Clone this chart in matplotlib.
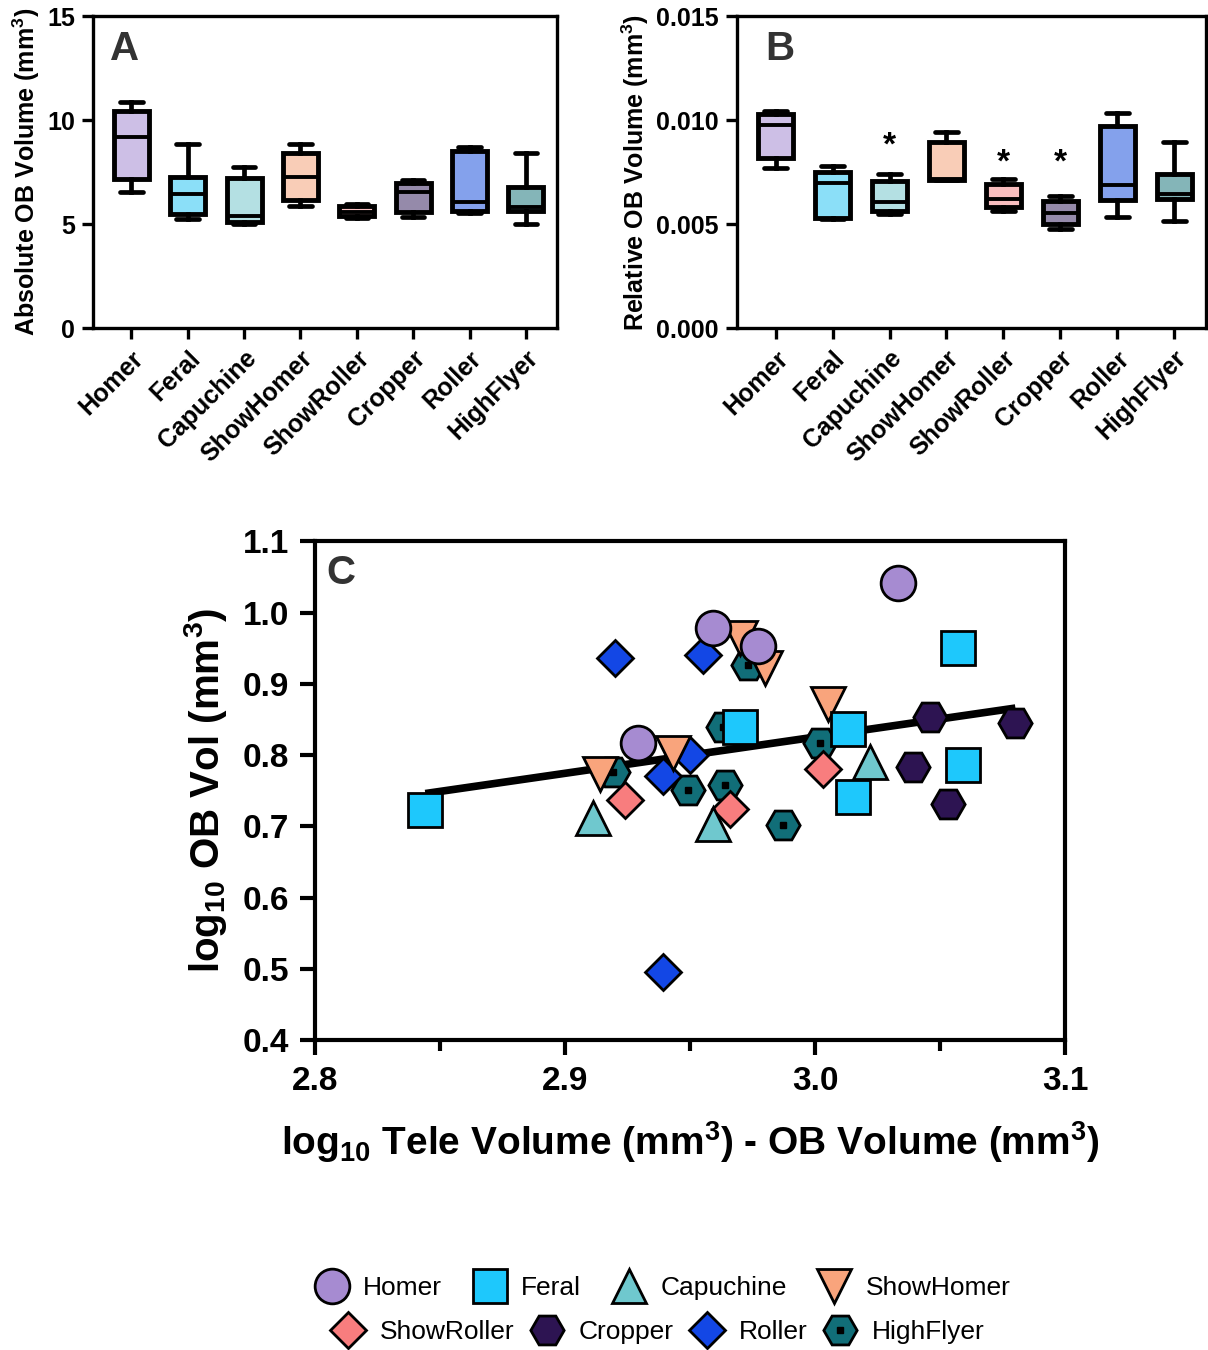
import matplotlib
matplotlib.use("Agg")
import matplotlib.pyplot as plt
import numpy as np

plt.rcParams['font.family'] = ['Liberation Sans', 'DejaVu Sans']
plt.rcParams['mathtext.fontset'] = 'custom'
plt.rcParams['mathtext.rm'] = 'Liberation Sans:bold'
plt.rcParams['mathtext.default'] = 'rm'

# Breeds (same order in all panels)
breeds = ['Homer', 'Feral', 'Capuchine', 'ShowHomer', 'ShowRoller',
          'Cropper', 'Roller', 'HighFlyer']
box_colors = ['#CDBFE6', '#8BDFF8', '#B4E0E3', '#F9CDB7', '#F8BEBF',
              '#958AAA', '#84A1EC', '#84B5B8']

# Panel A: absolute OB volume (mm^3) box summaries
a_min = [6.52, 5.23, 5.01, 5.87, 5.30, 5.36, 5.52, 4.99]
a_q1 = [7.16, 5.47, 5.12, 6.16, 5.40, 5.60, 5.65, 5.65]
a_med = [9.20, 6.43, 5.39, 7.28, 5.60, 6.56, 6.08, 5.81]
a_q3 = [10.44, 7.25, 7.20, 8.40, 5.85, 6.96, 8.53, 6.80]
a_max = [10.88, 8.84, 7.73, 8.85, 5.95, 7.12, 8.72, 8.44]

# Panel B: relative OB volume box summaries
b_min = [0.00768, 0.00523, 0.00549, 0.00712, 0.00565, 0.00475, 0.00533, 0.00517]
b_q1 = [0.00820, 0.00531, 0.00563, 0.00712, 0.00580, 0.00500, 0.00616, 0.00621]
b_med = [0.00977, 0.00696, 0.00608, 0.00717, 0.00621, 0.00552, 0.00688, 0.00645]
b_q3 = [0.01028, 0.00752, 0.00708, 0.00893, 0.00693, 0.00613, 0.00972, 0.00740]
b_max = [0.01044, 0.00780, 0.00741, 0.00945, 0.00716, 0.00637, 0.01033, 0.00893]
b_star_idx = [2, 4, 5]
b_star_y = [0.00873, 0.00792, 0.00792]

# Panel C: log10 tele - OB volume vs log10 OB volume
homer_x = [2.959, 2.977, 2.929, 3.033]
homer_y = [0.979, 0.953, 0.817, 1.041]
feral_x = [2.844, 2.970, 3.013, 3.057, 3.059, 3.015]
feral_y = [0.723, 0.839, 0.836, 0.950, 0.786, 0.741]
capuchine_x = [2.911, 2.959, 3.022]
capuchine_y = [0.711, 0.703, 0.790]
showhomer_x = [2.914, 2.943, 2.970, 2.980, 3.005]
showhomer_y = [0.774, 0.803, 0.965, 0.922, 0.871]
showroller_x = [2.924, 2.966, 3.003]
showroller_y = [0.737, 0.725, 0.781]
cropper_x = [3.046, 3.080, 3.039, 3.053]
cropper_y = [0.853, 0.845, 0.783, 0.732]
roller_x = [2.920, 2.955, 2.950, 2.939, 2.939]
roller_y = [0.936, 0.940, 0.800, 0.770, 0.495]
highflyer_x = [2.919, 2.949, 2.964, 2.987, 2.973, 2.963, 3.002]
highflyer_y = [0.776, 0.751, 0.758, 0.702, 0.926, 0.840, 0.817]
fit_x = [2.844, 3.080]
fit_y = [0.746, 0.866]

fig = plt.figure(figsize=(12.08, 13.5), dpi=100)
axA = fig.add_axes([0.077, 0.757, 0.384, 0.231])
axB = fig.add_axes([0.610, 0.757, 0.388, 0.231])
axC = fig.add_axes([0.261, 0.2296, 0.621, 0.3694])


def box_panel(ax, lo, q1, med, q3, hi):
    stats = []
    for i in range(len(breeds)):
        stats.append(dict(whislo=lo[i], q1=q1[i], med=med[i], q3=q3[i],
                          whishi=hi[i], fliers=[]))
    pos = np.arange(len(breeds))
    bp = ax.bxp(stats, positions=pos, widths=0.62, capwidths=0.4,
                patch_artist=True, showfliers=False,
                boxprops=dict(linewidth=3.5, edgecolor='black'),
                medianprops=dict(color='black', linewidth=2.8),
                whiskerprops=dict(color='black', linewidth=3.4),
                capprops=dict(color='black', linewidth=3.4, solid_capstyle='round'))
    for patch, c in zip(bp['boxes'], box_colors):
        patch.set_facecolor(c)
    ax.set_xlim(-0.68, 7.55)
    ax.set_xticks(pos)
    ax.set_xticklabels(breeds, rotation=45, ha='right', rotation_mode='anchor',
                       fontsize=18, fontweight='bold')
    for s in ax.spines.values():
        s.set_linewidth(2.4)
    ax.tick_params(axis='both', width=2.4, length=8, pad=5)


box_panel(axA, a_min, a_q1, a_med, a_q3, a_max)
axA.set_ylim(0, 15)
axA.set_yticks([0, 5, 10, 15])
axA.set_yticklabels(['0', '5', '10', '15'], fontweight='bold', fontsize=18)
axA.set_ylabel('Absolute OB Volume (mm$^3$)', fontsize=18, fontweight='bold', labelpad=4)
axA.text(0.037, 0.955, 'A', transform=axA.transAxes, fontsize=29,
         fontweight='bold', color='#333333', ha='left', va='top')

box_panel(axB, b_min, b_q1, b_med, b_q3, b_max)
axB.set_ylim(0, 0.015)
axB.set_yticks([0, 0.005, 0.010, 0.015])
axB.set_yticklabels(['0.000', '0.005', '0.010', '0.015'], fontweight='bold', fontsize=18)
axB.set_ylabel('Relative OB Volume (mm$^3$)', fontsize=18, fontweight='bold', labelpad=4)
axB.text(0.06, 0.955, 'B', transform=axB.transAxes, fontsize=29,
         fontweight='bold', color='#333333', ha='left', va='top')
for i, y in zip(b_star_idx, b_star_y):
    axB.text(i, y, '*', fontsize=24, fontweight='bold', ha='center', va='center')

# Panel C scatter
ms_kw = dict(linestyle='none', markeredgecolor='black', markeredgewidth=2.0)
axC.plot(fit_x, fit_y, color='black', linewidth=5.5, solid_capstyle='butt', zorder=2)
hf, = axC.plot(highflyer_x, highflyer_y, marker='H', markersize=24,
               markerfacecolor='#116E78', zorder=3, **ms_kw)
hf_dot, = axC.plot(highflyer_x, highflyer_y, linestyle='none', marker='s',
                   markersize=3.8, color='black', zorder=3.1)
cr, = axC.plot(cropper_x, cropper_y, marker='H', markersize=24,
               markerfacecolor='#2D1452', zorder=4, **ms_kw)
ro, = axC.plot(roller_x, roller_y, marker='D', markersize=18.5,
               markerfacecolor='#1347E5', zorder=5, **ms_kw)
sr, = axC.plot(showroller_x, showroller_y, marker='D', markersize=18.5,
               markerfacecolor='#F87D7E', zorder=6, **ms_kw)
ca, = axC.plot(capuchine_x, capuchine_y, marker='^', markersize=24,
               markerfacecolor='#6FC8CE', zorder=7, **ms_kw)
sh, = axC.plot(showhomer_x, showhomer_y, marker='v', markersize=24,
               markerfacecolor='#F9A47C', zorder=8, **ms_kw)
fe, = axC.plot(feral_x, feral_y, marker='s', markersize=24,
               markerfacecolor='#1EC8FC', zorder=9, **ms_kw)
ho, = axC.plot(homer_x, homer_y, marker='o', markersize=25,
               markerfacecolor='#A68BD1', zorder=10, **ms_kw)

axC.set_xlim(2.8, 3.1)
axC.set_ylim(0.4, 1.1)
axC.set_xticks([2.8, 2.9, 3.0, 3.1])
axC.set_xticks([2.85, 2.95, 3.05], minor=True)
axC.set_yticks(np.arange(0.4, 1.11, 0.1))
axC.set_xticklabels(['2.8', '2.9', '3.0', '3.1'], fontweight='bold', fontsize=24)
axC.set_yticklabels(['%.1f' % v for v in np.arange(0.4, 1.11, 0.1)],
                    fontweight='bold', fontsize=24)
for s in axC.spines.values():
    s.set_linewidth(3.0)
axC.tick_params(axis='both', which='major', width=3.0, length=11, pad=8)
axC.tick_params(axis='x', which='minor', width=3.0, length=8)
axC.set_xlabel('log$_{10}$ Tele Volume (mm$^3$) - OB Volume (mm$^3$)',
               fontsize=28, fontweight='bold', labelpad=16)
axC.set_ylabel('log$_{10}$ OB Vol (mm$^3$)', fontsize=29, fontweight='bold', labelpad=10)
axC.text(0.015, 0.975, 'C', transform=axC.transAxes, fontsize=29,
         fontweight='bold', color='#333333', ha='left', va='top')

# Legends (two rows)
leg_kw = dict(frameon=False, fontsize=19, handletextpad=0.5,
              handlelength=1.4, loc='center')
fig.legend([ho, fe, ca, sh], ['Homer', 'Feral', 'Capuchine', 'ShowHomer'],
           ncol=4, columnspacing=1.1, bbox_to_anchor=(0.548, 1 - 1288 / 1350), **leg_kw)
fig.legend([sr, cr, ro, (hf, hf_dot)], ['ShowRoller', 'Cropper', 'Roller', 'HighFlyer'],
           ncol=4, columnspacing=0.55, bbox_to_anchor=(0.544, 1 - 1332 / 1350), **leg_kw)

fig.savefig('out.png', dpi=100)
